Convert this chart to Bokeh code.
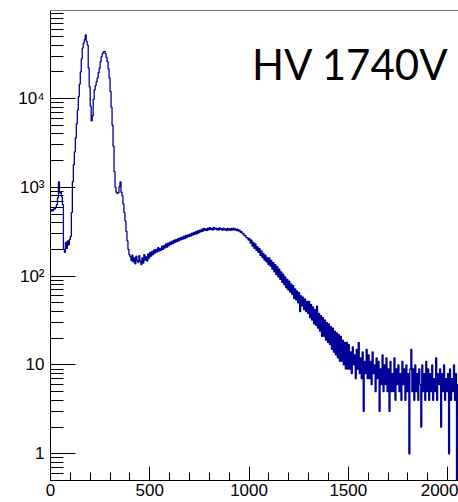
import numpy as np
from bokeh.plotting import figure
from bokeh.models import FixedTicker, Span, Label, Range1d
from bokeh.embed import file_html
from bokeh.resources import INLINE

# ---- data (counts per 5-unit bin) ----
bin_width = 5
x_ticks = [0, 500, 1000, 1500, 2000]
x_tick_labels = ["0", "500", "1000", "1500", "2000"]
y_ticks = [1, 10, 100, 1000, 10000]
y_tick_labels = ["1", "10", "10\u00b2", "10\u00b3", "10\u2074"]
title_text = "HV 1740V"

# x = 0 .. 395
peak_counts = [
    540, 560, 545, 575, 570, 600, 640, 760, 1150, 860, 880, 780, 640, 200, 185, 240, 205, 250, 225, 260,
    280, 520, 1150, 1800, 2500, 3600, 5200, 7400, 10500, 14500, 20000, 28000, 37000, 42000, 46000, 52000, 44000, 40000, 22000, 13500,
    8200, 5600, 6400, 9800, 12500, 14000, 15500, 17000, 19500, 22000, 26000, 29500, 32000, 33500, 34000, 32000, 29000, 26000, 21500, 17000,
    12000, 8000, 5000, 2900, 1500, 1000, 880, 850, 870, 1020, 1150, 880, 800, 650, 520, 420, 320, 250, 200, 175,
]
# x = 400 .. 995
hump_counts = [
    165, 150, 172, 145, 160, 138, 168, 150, 142, 170, 148, 135, 160, 140, 175, 152, 165, 148, 178, 160,
    185, 168, 190, 175, 198, 182, 200, 188, 210, 192, 205, 195, 218, 200, 222, 208, 230, 212, 235, 220,
    242, 228, 248, 232, 255, 240, 258, 245, 265, 250, 270, 256, 275, 262, 282, 265, 288, 272, 292, 278,
    298, 282, 305, 290, 310, 296, 318, 300, 325, 308, 330, 315, 338, 320, 345, 328, 340, 325, 348, 332,
    352, 335, 345, 330, 355, 338, 348, 332, 345, 330, 350, 334, 342, 328, 346, 332, 340, 326, 344, 330,
    342, 328, 345, 330, 348, 332, 340, 325, 338, 322, 330, 312, 318, 300, 302, 285, 288, 270, 272, 255,
]
# x = 1000 .. 2055
tail_counts = [
    265, 235, 255, 218, 240, 205, 230, 195, 215, 185, 205, 172, 192, 162, 180, 152, 172, 145, 162, 136,
    160, 130, 150, 120, 142, 112, 135, 104, 128, 98, 120, 92, 112, 85, 105, 80, 98, 74, 92, 70,
    88, 66, 82, 62, 78, 56, 72, 54, 68, 50, 65, 40, 60, 46, 58, 42, 55, 40, 52, 38,
    52, 34, 48, 32, 45, 29, 42, 28, 46, 26, 38, 24, 36, 21, 34, 21, 32, 19, 30, 18,
    29, 17, 27, 15, 26, 14, 24, 13, 23, 12, 22, 11, 21, 11, 19, 10, 18, 9, 18, 9,
    17, 9, 14, 8, 16, 10, 13, 7, 15, 9, 18, 8, 12, 7, 14, 3, 11, 8, 15, 7,
    13, 7, 11, 6, 14, 8, 10, 5, 12, 7, 11, 3, 9, 6, 13, 5, 10, 6, 12, 5,
    9, 3, 11, 5, 8, 5, 12, 4, 9, 6, 10, 5, 8, 4, 11, 6, 9, 4, 10, 5,
    8, 1, 9, 15, 5, 9, 4, 10, 5, 8, 4, 9, 6, 2, 10, 5, 8, 4, 11, 5,
    9, 4, 8, 5, 10, 4, 7, 5, 12, 4, 8, 6, 9, 2, 8, 5, 10, 4, 7, 5,
    8, 1, 9, 4, 7, 5, 10, 4, 8, 0, 6, 4,
]

counts = np.array(peak_counts + hump_counts + tail_counts, dtype=float)
edges = np.arange(len(counts) + 1) * bin_width
y_lo, y_hi = 0.5, 98000
plot_counts = np.where(counts > 0, counts, 0.1)
xs = np.repeat(edges, 2)[1:-1]
ys = np.repeat(plot_counts, 2)

p = figure(width=458, height=502, y_axis_type="log",
           x_range=Range1d(0, 2055), y_range=Range1d(y_lo, y_hi),
           output_backend="svg", toolbar_location=None,
           min_border_left=50, min_border_right=0, min_border_top=10, min_border_bottom=22)
p.outline_line_color = None
p.xgrid.visible = False
p.ygrid.visible = False
p.background_fill_color = "white"
p.border_fill_color = "white"

p.line(xs, ys, line_color="#000099", line_width=1.3)

# top frame line
p.add_layout(Span(location=y_hi, dimension="width", line_color="black", line_width=1))

y_minor = [m * 10.0 ** k for k in range(-1, 5) for m in range(2, 10)]
y_minor = [v for v in y_minor if y_lo <= v <= y_hi]
x_minor = list(range(0, 2100, 100))

p.yaxis.ticker = FixedTicker(ticks=y_ticks, minor_ticks=y_minor)
p.yaxis.major_label_overrides = {t: l for t, l in zip(y_ticks, y_tick_labels)}
p.xaxis.ticker = FixedTicker(ticks=x_ticks, minor_ticks=x_minor)
p.xaxis.major_label_overrides = {t: l for t, l in zip(x_ticks, x_tick_labels)}

for ax in (p.xaxis, p.yaxis):
    ax.axis_line_color = "black"
    ax.major_tick_line_color = "black"
    ax.minor_tick_line_color = "black"
    ax.major_tick_out = 0
    ax.minor_tick_out = 0
    ax.major_label_text_font = "Liberation Sans"
    ax.major_label_text_font_size = "17px"
    ax.major_label_text_color = "black"

p.yaxis.major_tick_in = 25
p.yaxis.minor_tick_in = 13
p.yaxis.major_label_standoff = 6
p.xaxis.major_tick_in = 14
p.xaxis.minor_tick_in = 8
p.xaxis.major_label_standoff = 3

p.add_layout(Label(x=1015, y=24500, text=title_text, text_font="Lato",
                   text_font_size="42px", text_color="black",
                   text_baseline="alphabetic"))

open("out.html", "w").write(file_html(p, INLINE))
